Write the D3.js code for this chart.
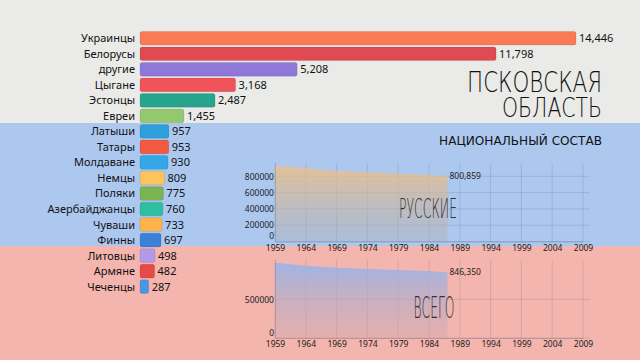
<!DOCTYPE html>
<html><head><meta charset="utf-8">
<script src="https://cdn.jsdelivr.net/npm/d3@7"></script>
<style>html,body{margin:0;padding:0;background:#e8e8e6;}svg{display:block;}</style>
</head><body>
<svg id="c" width="640" height="360"></svg>
<script>
// ---- data ----
const nations = ["Украинцы","Белорусы","другие","Цыгане","Эстонцы","Евреи","Латыши","Татары","Молдаване","Немцы","Поляки","Азербайджанцы","Чуваши","Финны","Литовцы","Армяне","Чеченцы"];
const counts = [14446,11798,5208,3168,2487,1455,957,953,930,809,775,760,733,697,498,482,287];
const barColors = ["#fa7a55","#e04a52","#9077da","#f0545a","#27a58c","#93c96e","#2f9fdc","#f2593f","#33a8e6","#fbc55b","#7ab550","#2ebfa0","#fbb34a","#3d80d8","#b29ae8","#e54b47","#4a95e6"];
const years = [1959,1964,1969,1974,1979,1984,1987];
const russians = [926000,898000,865000,849000,832000,816000,800859];
const totals = [973000,934000,908000,891000,878000,866000,846350];
const yearTicks = [1959,1964,1969,1974,1979,1984,1989,1994,1999,2004,2009];
const rusTicks = [0,200000,400000,600000,800000];
const totTicks = [0,500000];

const svg = d3.select("#c");
const font = "'Noto Sans', 'Open Sans', sans-serif";
const thin = "'DejaVu Sans', sans-serif";

// fitted text: scales horizontally so it spans `w` pixels
function fitText(parent, str, ax, base, anchor, size, weight, w, fill){
  const t = parent.append("text").attr("x",0).attr("y",0).attr("text-anchor",anchor)
    .attr("font-family",thin).attr("font-weight",weight).attr("font-size",size).attr("fill",fill).text(str);
  const len = t.node().getComputedTextLength();
  t.attr("transform",`translate(${ax},${base}) scale(${w/len},1)`);
  return t;
}

// ---- background flag ----
svg.append("rect").attr("x",0).attr("y",0).attr("width",640).attr("height",124).attr("fill","#eaeae8");
svg.append("rect").attr("x",0).attr("y",123).attr("width",640).attr("height",124).attr("fill","#adc8ef");
svg.append("rect").attr("x",0).attr("y",246).attr("width",640).attr("height",114).attr("fill","#f4b5ae");

// ---- bar chart ----
const x = d3.scaleLinear().domain([0,14446]).range([140,576]);
const y = d3.scaleBand().domain(nations).range([30.5,294.4]).paddingInner(0.12).paddingOuter(0.06);
const bars = svg.append("g");
bars.selectAll("rect").data(nations).join("rect")
  .attr("x",x(0)).attr("y",d=>y(d)).attr("height",y.bandwidth())
  .attr("width",(d,i)=>x(counts[i])-x(0)).attr("rx",2)
  .attr("fill",(d,i)=>barColors[i]).attr("stroke","rgba(0,0,0,0.12)").attr("stroke-width",0.8);
bars.selectAll("text.n").data(nations).join("text").attr("class","n")
  .attr("x",135).attr("y",d=>y(d)+y.bandwidth()/2).attr("dy","0.36em")
  .attr("text-anchor","end").attr("font-family",font).attr("font-size",11).attr("fill","#111").text(d=>d);
bars.selectAll("text.v").data(nations).join("text").attr("class","v")
  .attr("x",(d,i)=>x(counts[i])+3).attr("y",d=>y(d)+y.bandwidth()/2).attr("dy","0.36em")
  .attr("font-family",font).attr("font-size",11).attr("fill","#111").text((d,i)=>d3.format(",")(counts[i]));

// ---- title ----
fitText(svg, "ПСКОВСКАЯ", 602, 92, "end", 28, 200, 135, "#111");
fitText(svg, "ОБЛАСТЬ", 602, 117, "end", 27, 200, 100, "#111");
fitText(svg, "НАЦИОНАЛЬНЫЙ СОСТАВ", 602, 145, "end", 13, 400, 163, "#111");

// ---- area charts ----
const defs = svg.append("defs");
function grad(id, c1, c2){
  const g = defs.append("linearGradient").attr("id",id).attr("x1",0).attr("y1",0).attr("x2",0).attr("y2",1);
  g.append("stop").attr("offset","0%").attr("stop-color",c1);
  g.append("stop").attr("offset","100%").attr("stop-color",c2);
}
grad("gR","rgba(240,192,130,0.8)","rgba(175,170,175,0.35)");
grad("gT","rgba(150,180,235,0.9)","rgba(200,165,175,0.35)");

function areaChart(vals, ticks, y0, y1, vmax, gid, label, lx, lbase, lsize, llen){
  const xs = d3.scaleLinear().domain([1959,2009]).range([275,583]);
  const ys = d3.scaleLinear().domain([0,vmax]).range([y0,y1]);
  const g = svg.append("g");
  g.selectAll("line.vg").data(yearTicks).join("line").attr("class","vg")
    .attr("x1",d=>xs(d)).attr("x2",d=>xs(d)).attr("y1",y0).attr("y2",y1)
    .attr("stroke","rgba(90,90,110,0.18)").attr("stroke-width",1);
  g.selectAll("line.hg").data(ticks).join("line").attr("class","hg")
    .attr("x1",275).attr("x2",590).attr("y1",d=>ys(d)).attr("y2",d=>ys(d))
    .attr("stroke","rgba(90,90,110,0.18)").attr("stroke-width",1);
  const area = d3.area().x((d,i)=>xs(years[i])).y0(y0).y1(d=>ys(d));
  g.append("path").datum(vals).attr("d",area).attr("fill",`url(#${gid})`);
  const ax = g.append("g").attr("transform",`translate(0,${y0})`)
    .call(d3.axisBottom(xs).tickValues(yearTicks).tickFormat(d3.format("d")).tickSize(0).tickPadding(3));
  ax.select(".domain").attr("stroke","rgba(90,90,110,0.3)");
  ax.selectAll("text").attr("font-family",font).attr("font-size",8.5).attr("fill","#222");
  const ay = g.append("g").attr("transform","translate(275,0)")
    .call(d3.axisLeft(ys).tickValues(ticks).tickFormat(d3.format("d")).tickSize(0).tickPadding(1));
  ay.select(".domain").attr("stroke","rgba(90,90,110,0.25)");
  ay.selectAll("text").attr("font-family",font).attr("font-size",8.5).attr("fill","#222")
    .attr("dy",d=>d===0?"-0.3em":"0.32em");
  const last = vals.length-1;
  g.append("text").attr("x",xs(years[last])+2).attr("y",ys(vals[last])).attr("dy","0.35em")
    .attr("font-family",font).attr("font-size",8.5).attr("fill","#222").text(d3.format(",")(vals[last]));
  fitText(g, label, lx, lbase, "middle", lsize, 200, llen, "#333");
}
areaChart(russians, rusTicks, 241.5, 163, 963000, "gR", "РУССКИЕ", 428, 218, 27, 58);
areaChart(totals, totTicks, 338, 260, 1008000, "gT", "ВСЕГО", 434, 318, 31, 41);
</script>
</body></html>
